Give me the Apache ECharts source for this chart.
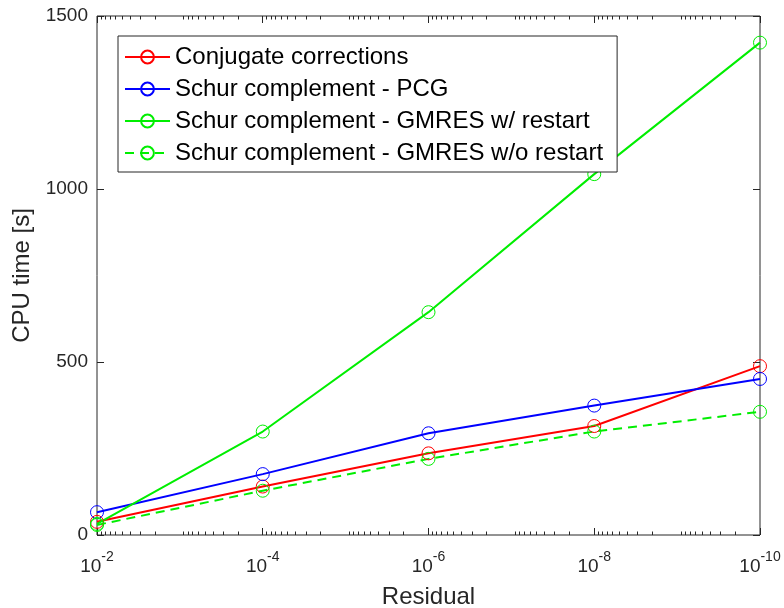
<!DOCTYPE html>
<html>
<head>
<meta charset="utf-8">
<script src="https://cdn.jsdelivr.net/npm/echarts@6/dist/echarts.min.js"></script>
<style>
  html, body { margin: 0; padding: 0; background: #fff; }
  #chart { width: 784px; height: 608px; }
</style>
</head>
<body>
<div id="chart"></div>
<script>
// residual levels (x) and CPU time [s] for each solver
var residuals = [1e-2, 1e-4, 1e-6, 1e-8, 1e-10];
var conjCorr = [38, 140, 236, 315, 488];
var schurPcg = [66, 176, 294, 374, 451];
var gmresRestart = [32, 299, 644, 1043, 1423];
var gmresNoRestart = [29, 128, 220, 299, 356];
var seriesNames = [
    'Conjugate corrections',
    'Schur complement - PCG',
    'Schur complement - GMRES w/ restart',
    'Schur complement - GMRES w/o restart'
];
var xTicks = [1e-2, 1e-4, 1e-6, 1e-8, 1e-10];
var yTicks = [0, 500, 1000, 1500];

(function(){
    var font = 'Liberation Sans, Arial, Helvetica, sans-serif';
    var axisColor = '#262626';

    // log minor ticks: 2..9 x 10^e
    var minorTicks = [];
    for (var e = -10; e < -2; e++) {
        for (var m = 2; m <= 9; m++) {
            minorTicks.push(m * Math.pow(10, e));
        }
    }

    function pairs(ys) {
        return residuals.map(function(x, i){ return [x, ys[i]]; });
    }

    function makeSeries(name, ys, color, dashed) {
        return {
            name: name,
            type: 'line',
            data: pairs(ys),
            symbol: 'circle',
            symbolSize: 13,
            showSymbol: true,
            animation: false,
            lineStyle: { color: color, width: 2, type: dashed ? [9, 6] : 'solid' },
            itemStyle: { color: 'rgba(0,0,0,0)', borderColor: color, borderWidth: 1 },
            emphasis: { disabled: true },
            z: 3
        };
    }

    function logAxis(extra) {
        var base = {
            type: 'log',
            logBase: 10,
            min: 1e-10,
            max: 1e-2,
            inverse: true,
            splitLine: { show: false },
            axisLine: { show: false },
            axisTick: { show: false },
            axisLabel: { show: false }
        };
        for (var k in extra) base[k] = extra[k];
        return base;
    }

    var chart = echarts.init(document.getElementById('chart'));
    var option = {
        backgroundColor: '#ffffff',
        animation: false,
        grid: {
            left: 97, right: 24, top: 16, bottom: 73,
            containLabel: false,
            outerBoundsMode: 'none',
            show: true, borderColor: axisColor, borderWidth: 1,
            backgroundColor: 'transparent'
        },
        legend: {
            orient: 'vertical',
            left: 118,
            top: 36,
            padding: [9, 14, 7, 6],
            itemWidth: 45,
            itemHeight: 16,
            itemGap: 8,
            backgroundColor: '#ffffff',
            borderColor: axisColor,
            borderWidth: 1,
            borderRadius: 0,
            textStyle: { fontFamily: font, fontSize: 24, color: '#000', lineHeight: 24 },
            data: seriesNames,
            selectedMode: false
        },
        xAxis: [
            logAxis({
                position: 'bottom',
                name: 'Residual',
                nameLocation: 'middle',
                nameGap: 50,
                nameTextStyle: { fontFamily: font, fontSize: 24, color: axisColor },
                axisTick: { show: true, inside: true, length: 7, customValues: xTicks, lineStyle: { color: axisColor } },
                axisLabel: {
                    show: true,
                    margin: 15,
                    customValues: xTicks,
                    formatter: function(v){
                        var ex = Math.round(Math.log10(v));
                        return '{b|10}{s|' + ex + '}';
                    },
                    rich: {
                        b: { fontFamily: font, fontSize: 19, color: axisColor, lineHeight: 26, verticalAlign: 'bottom' },
                        s: { fontFamily: font, fontSize: 14, color: axisColor, lineHeight: 14, verticalAlign: 'top' }
                    }
                }
            }),
            logAxis({
                position: 'bottom',
                axisTick: { show: true, inside: true, length: 3.5, customValues: minorTicks, lineStyle: { color: axisColor } }
            }),
            logAxis({
                position: 'top',
                axisTick: { show: true, inside: true, length: 7, customValues: xTicks, lineStyle: { color: axisColor } }
            }),
            logAxis({
                position: 'top',
                axisTick: { show: true, inside: true, length: 3.5, customValues: minorTicks, lineStyle: { color: axisColor } }
            })
        ],
        yAxis: [
            {
                type: 'value',
                position: 'left',
                min: 0, max: 1500, interval: 500,
                name: 'CPU time [s]',
                nameLocation: 'middle',
                nameGap: 59,
                nameTextStyle: { fontFamily: font, fontSize: 24, color: axisColor },
                splitLine: { show: false },
                axisLine: { show: false },
                axisTick: { show: true, inside: true, length: 7, customValues: yTicks, lineStyle: { color: axisColor } },
                axisLabel: {
                    fontFamily: font, fontSize: 19, color: axisColor, margin: 9,
                    customValues: yTicks,
                    formatter: function(v){ return String(v); }
                }
            },
            {
                type: 'value',
                position: 'right',
                min: 0, max: 1500, interval: 500,
                splitLine: { show: false },
                axisLine: { show: false },
                axisTick: { show: true, inside: true, length: 7, lineStyle: { color: axisColor } },
                axisLabel: { show: false }
            }
        ],
        series: [
            makeSeries(seriesNames[0], conjCorr, '#ff0000', false),
            makeSeries(seriesNames[1], schurPcg, '#0000ff', false),
            makeSeries(seriesNames[2], gmresRestart, '#00ee00', false),
            makeSeries(seriesNames[3], gmresNoRestart, '#00ee00', true)
        ]
    };
    chart.setOption(option);
})();
</script>
</body>
</html>
